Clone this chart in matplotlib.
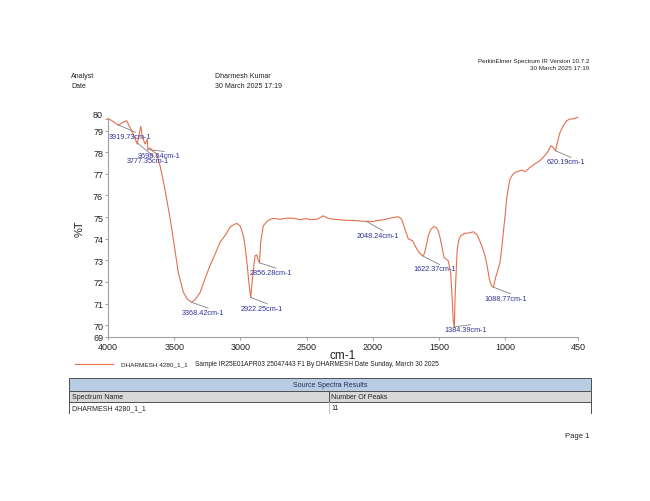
import numpy as np
import matplotlib
matplotlib.use("Agg")
import matplotlib.pyplot as plt
from matplotlib.patches import Rectangle
from matplotlib.lines import Line2D

plt.rcParams["font.family"] = ["Liberation Sans", "DejaVu Sans"]

# spectrum
wavenumber = [
    4000, 3960, 3922, 3890, 3859, 3830, 3800, 3779, 3765, 3753, 3740, 3720,
    3703, 3699, 3683, 3660, 3632, 3607, 3580, 3557, 3530, 3507, 3469, 3431,
    3400, 3368, 3340, 3305, 3270, 3230, 3190, 3154, 3110, 3079, 3050, 3028,
    3003, 2985, 2973, 2960, 2948, 2935, 2922, 2910, 2890, 2877, 2865, 2856,
    2847, 2827, 2789, 2751, 2700, 2650, 2600, 2550, 2500, 2474, 2420, 2374,
    2340, 2300, 2250, 2197, 2150, 2100, 2048, 2000, 1950, 1900, 1870, 1807,
    1782, 1757, 1732, 1715, 1699, 1674, 1650, 1622, 1611, 1595, 1581, 1560,
    1535, 1520, 1505, 1490, 1480, 1462, 1445, 1430, 1412, 1400, 1392, 1384,
    1379, 1370, 1362, 1350, 1336, 1304, 1270, 1241, 1215, 1195, 1178, 1152,
    1135, 1120, 1105, 1089, 1072, 1055, 1039, 1025, 1014, 1000, 989, 975,
    964, 945, 926, 900, 875, 850, 813, 780, 740, 712, 680, 655, 640, 620,
    600, 586, 561, 536, 511, 486, 460, 450,
]
transmittance = [
    79.57, 79.42, 79.25, 79.38, 79.46, 79.10, 78.70, 78.38, 78.80, 79.20, 78.70, 78.38,
    78.60, 78.12, 78.20, 78.05, 77.92, 77.38, 76.60, 75.84, 74.90, 73.99, 72.44, 71.52,
    71.20, 71.05, 71.20, 71.50, 72.10, 72.75, 73.30, 73.83, 74.20, 74.53, 74.65, 74.71,
    74.60, 74.30, 73.99, 73.40, 72.75, 71.90, 71.27, 72.10, 73.21, 73.25, 73.00, 72.88,
    73.83, 74.60, 74.86, 74.94, 74.90, 74.95, 74.95, 74.88, 74.93, 74.88, 74.90, 75.06,
    74.95, 74.90, 74.88, 74.85, 74.85, 74.82, 74.80, 74.80, 74.85, 74.90, 74.95, 75.02,
    74.90, 74.45, 73.99, 73.95, 73.90, 73.60, 73.35, 73.20, 73.30, 73.70, 74.14, 74.45,
    74.57, 74.50, 74.36, 74.00, 73.68, 73.14, 73.05, 72.98, 72.44, 71.20, 70.20, 69.90,
    71.20, 72.50, 73.52, 73.95, 74.14, 74.25, 74.27, 74.32, 74.20, 73.95, 73.68, 73.21,
    72.70, 72.13, 71.85, 71.75, 72.21, 72.55, 72.91, 73.60, 74.30, 75.10, 75.84, 76.40,
    76.76, 76.95, 77.07, 77.12, 77.18, 77.10, 77.30, 77.45, 77.60, 77.77, 78.00, 78.30,
    78.25, 78.07, 78.60, 78.92, 79.23, 79.46, 79.54, 79.55, 79.60, 79.62,
]

peak_wn = [3919.73, 3698.64, 3777.35, 3368.42, 2922.25, 2856.28,
           2048.24, 1622.37, 1384.39, 1088.77, 620.19]

x_ticks = [4000, 3500, 3000, 2500, 2000, 1500, 1000, 450]
y_ticks = [69.45, 70, 71, 72, 73, 74, 75, 76, 77, 78, 79, 79.55]
y_tick_labels = ["69", "70", "71", "72", "73", "74", "75", "76", "77", "78", "79", ""]

# label centres for the peak annotations (layout)
label_pos = [(3830, 78.72), (3615, 77.84), (3696, 77.61), (3284, 70.59),
             (2839, 70.79), (2773, 72.44), (1963, 74.17), (1535, 72.60),
             (1301, 69.82), (999, 71.25), (544, 77.56)]

W, H = 650, 502
fig = plt.figure(figsize=(W / 100, H / 100), dpi=100)


def fx(px):
    return px / W


def fy(py):
    return 1 - py / H


line_col = "#e2704f"
lab_col = "#30309a"
txt_col = "#222222"

ax = fig.add_axes([fx(108), fy(338), (578 - 108) / W, (338 - 119.8) / H])
ax.plot(wavenumber, transmittance, color=line_col, lw=0.8, clip_on=False)
ax.set_xlim(4000, 450)
ax.set_ylim(69.45, 79.55)
ax.set_xticks(x_ticks)
ax.set_xticklabels([str(t) for t in x_ticks])
ax.set_yticks(y_ticks)
ax.set_yticklabels(y_tick_labels)
ax.tick_params(labelsize=6.5, length=2.5, width=0.6, color="#909090",
               labelcolor=txt_col, pad=1)
# top end label sits a little above the axis end
ax.text(-0.012, 1.0, "80", transform=ax.transAxes, fontsize=6.5, color=txt_col,
        ha="right", va="bottom")
for s in ["top", "right"]:
    ax.spines[s].set_visible(False)
for s in ["left", "bottom"]:
    ax.spines[s].set_color("#a0a0a0")
    ax.spines[s].set_linewidth(0.8)
ax.set_xlabel("cm-1", fontsize=8.5, labelpad=-1, color=txt_col)
ax.set_ylabel("%T", fontsize=8, labelpad=6, color=txt_col)

wn_sorted = np.array(wavenumber[::-1])
t_sorted = np.array(transmittance[::-1])
for w, (lx, ly) in zip(peak_wn, label_pos):
    ty = np.interp(w, wn_sorted, t_sorted)
    ax.plot([w, lx - 40], [ty, ly + 0.2], color="#808080", lw=0.6)
    ax.text(lx, ly, f"{w:.2f}cm-1", fontsize=5.2, color=lab_col,
            ha="center", va="center")

# page header
fig.text(fx(589), fy(62), "PerkinElmer Spectrum IR Version 10.7.2", fontsize=4.5,
         ha="right", va="center", color=txt_col)
fig.text(fx(589), fy(69), "30 March 2025 17:19", fontsize=4.5,
         ha="right", va="center", color=txt_col)
fig.text(fx(71), fy(76), "Analyst", fontsize=5, va="center", color=txt_col)
fig.text(fx(71), fy(87), "Date", fontsize=5, va="center", color=txt_col)
fig.text(fx(215), fy(76), "Dharmesh Kumar", fontsize=5, va="center", color=txt_col)
fig.text(fx(215), fy(87), "30 March 2025 17:19", fontsize=5, va="center", color=txt_col)

# legend row
fig.add_artist(Line2D([fx(75), fx(113)], [fy(365), fy(365)], color=line_col, lw=0.8))
fig.text(fx(121), fy(365), "DHARMESH 4280_1_1", fontsize=4.6, va="center", color=txt_col)
fig.text(fx(195), fy(365),
         "Sample IR25E01APR03 25047443 F1 By DHARMESH Date Sunday, March 30 2025",
         fontsize=4.7, va="center", color=txt_col)


# results table
def box(x0, y0, x1, y1, fc):
    fig.add_artist(Rectangle((fx(x0), fy(y1)), (x1 - x0) / W, (y1 - y0) / H,
                             transform=fig.transFigure, facecolor=fc,
                             edgecolor="#505050", lw=0.7))


box(69, 379, 591, 392, "#b8cce4")
box(69, 392, 329, 403, "#d8d8d8")
box(329, 392, 591, 403, "#d8d8d8")
fig.add_artist(Line2D([fx(69), fx(69)], [fy(403), fy(414)], color="#505050", lw=0.7))
fig.add_artist(Line2D([fx(329), fx(329)], [fy(403), fy(414)], color="#c0c0c0", lw=0.7))
fig.add_artist(Line2D([fx(591), fx(591)], [fy(403), fy(414)], color="#505050", lw=0.7))
fig.text(fx(330), fy(385.5), "Source Spectra Results", fontsize=5, ha="center",
         va="center", color="#203050")
fig.text(fx(71.5), fy(397.5), "Spectrum Name", fontsize=5, va="center", color=txt_col)
fig.text(fx(331), fy(397.5), "Number Of Peaks", fontsize=5, va="center", color=txt_col)
fig.text(fx(72), fy(409), "DHARMESH 4280_1_1", fontsize=5, va="center", color=txt_col)
fig.text(fx(331), fy(409), "11", fontsize=5, va="center", color=txt_col)

fig.text(fx(589), fy(437), "Page 1", fontsize=5.5, ha="right", va="center", color=txt_col)

fig.savefig("out.png", dpi=100)
